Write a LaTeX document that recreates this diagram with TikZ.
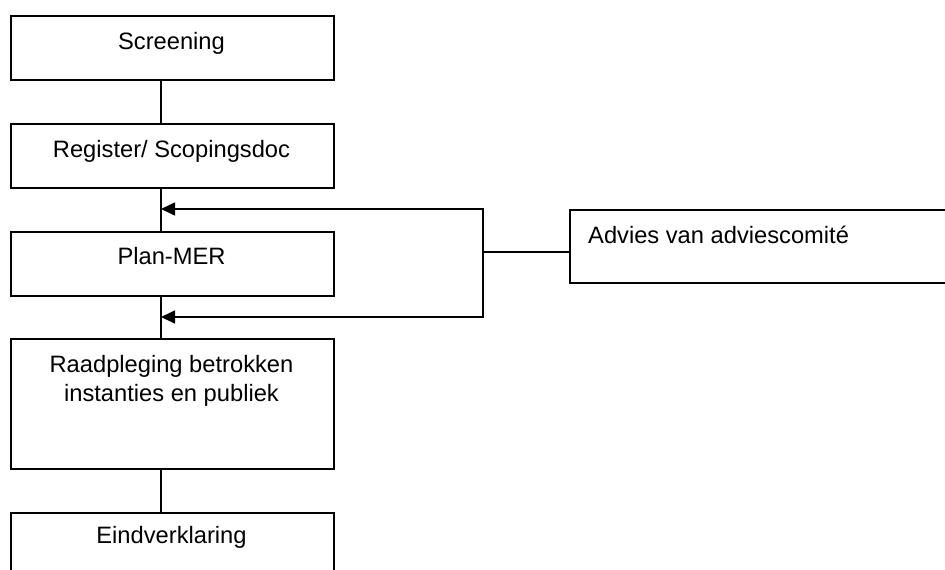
\documentclass[tikz,border=0pt]{standalone}
\usepackage{fontspec}
\setmainfont{Liberation Sans}
\usetikzlibrary{arrows.meta}
\begin{document}
\begin{tikzpicture}[x=1pt,y=-1pt,
  box/.style={draw=black,line width=1.6pt,minimum width=323pt,inner sep=0pt,anchor=north west},
  txt/.style={font=\fontsize{23.7}{29}\selectfont,anchor=base,inner sep=0pt,align=center},
  conn/.style={line width=1.6pt},
  arr/.style={line width=1.6pt,-{Triangle[length=14pt,width=13pt]}}]
\clip (0,0) rectangle (945,570);
% boxes
\node[box,minimum height=64pt] (scr) at (10,15) {};
\node[box,minimum height=64pt] (reg) at (10,123) {};
\node[box,minimum height=64pt] (plan) at (10,231) {};
\node[box,minimum height=130pt] (raad) at (10,338) {};
\node[box,minimum height=100pt] (eind) at (10,512) {};
\node[box,minimum width=420pt,minimum height=73pt] (adv) at (569,209) {};
% texts
\node[txt] (tscr) at (171.5,49) {Screening};
\node[txt] (treg) at (171.5,157) {Register/ Scopingsdoc};
\node[txt] (tplan) at (171.5,264) {Plan-MER};
\node[txt,anchor=north] (traad) at (171.5,355) {Raadpleging betrokken\\instanties en publiek};
\node[txt] (teind) at (171.5,543) {Eindverklaring};
\node[txt,anchor=base west] (tadv) at (588,243) {Advies van adviescomité};
% spine
\draw[conn] (scr.south -| 161,0) -- (reg.north -| 161,0);
\draw[conn] (reg.south -| 161,0) -- (plan.north -| 161,0);
\draw[conn] (plan.south -| 161,0) -- (raad.north -| 161,0);
\draw[conn] (raad.south -| 161,0) -- (eind.north -| 161,0);
% feedback
\coordinate (j) at (483,252);
\coordinate (t1) at (161,209);
\coordinate (t2) at (161,317);
\draw[conn] (adv.west |- j) -- (j);
\draw[arr] (j) |- (t1);
\draw[arr] (j) |- (t2);
\end{tikzpicture}
\end{document}
